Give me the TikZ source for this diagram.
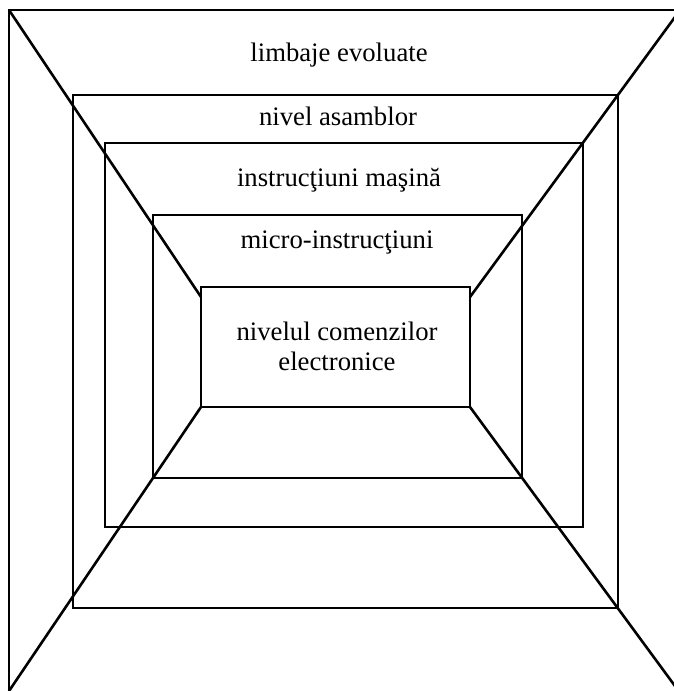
\documentclass[tikz,border=0pt]{standalone}
\usepackage{fontspec}
\setmainfont{Liberation Serif}
\begin{document}
\begin{tikzpicture}[x=1pt,y=-1pt,
  frame/.style={line width=2pt,line join=miter},
  diag/.style={line width=2.6pt},
  lbl/.style={font=\fontsize{26.7}{30}\selectfont,inner sep=0pt,align=center}]
\useasboundingbox (0,0) rectangle (674,691);
\clip (0,0) rectangle (674,691);
% outer frame corner and box corners
\coordinate (otl) at (9,10);
\coordinate (otr) at (690,10);
\coordinate (obl) at (9,700);
\coordinate (b2a) at (73,95);   \coordinate (b2b) at (618,608);
\coordinate (b3a) at (105,143); \coordinate (b3b) at (583,527);
\coordinate (b4a) at (153,215); \coordinate (b4b) at (522,478);
\coordinate (b5a) at (201,287); \coordinate (b5b) at (470,407);
% diagonal end points
\coordinate (dtl) at (9,10);
\coordinate (dtr) at (686,2);
\coordinate (dbl) at (9,691);
\coordinate (dbr) at (686,701);
\coordinate (ml) at (201,297);
\coordinate (mr) at (470,297);
\coordinate (nbl) at (201,407);
\coordinate (nbr) at (470,407);
% outer frame (top and left sides)
\draw[frame] (otr) -- (otl) -- (obl);
% nested boxes
\draw[frame] (b2a) rectangle (b2b);
\draw[frame] (b3a) rectangle (b3b);
\draw[frame] (b4a) rectangle (b4b);
\draw[frame] (b5a) rectangle (b5b);
% diagonals
\draw[diag] (dtl) -- (ml);
\draw[diag] (dtr) -- (mr);
\draw[diag] (dbl) -- (nbl);
\draw[diag] (dbr) -- (nbr);
% labels
\node[lbl,anchor=base] (t1) at (339,61) {limbaje evoluate};
\node[lbl,anchor=base] (t2) at (338,125) {nivel asamblor};
\node[lbl,anchor=base] (t3) at (339,186) {instrucţiuni maşină};
\node[lbl,anchor=base] (t4) at (337,248) {micro-instrucţiuni};
\node[lbl,anchor=base] (t5) at (337,370) {nivelul comenzilor\\electronice};
\end{tikzpicture}
\end{document}
